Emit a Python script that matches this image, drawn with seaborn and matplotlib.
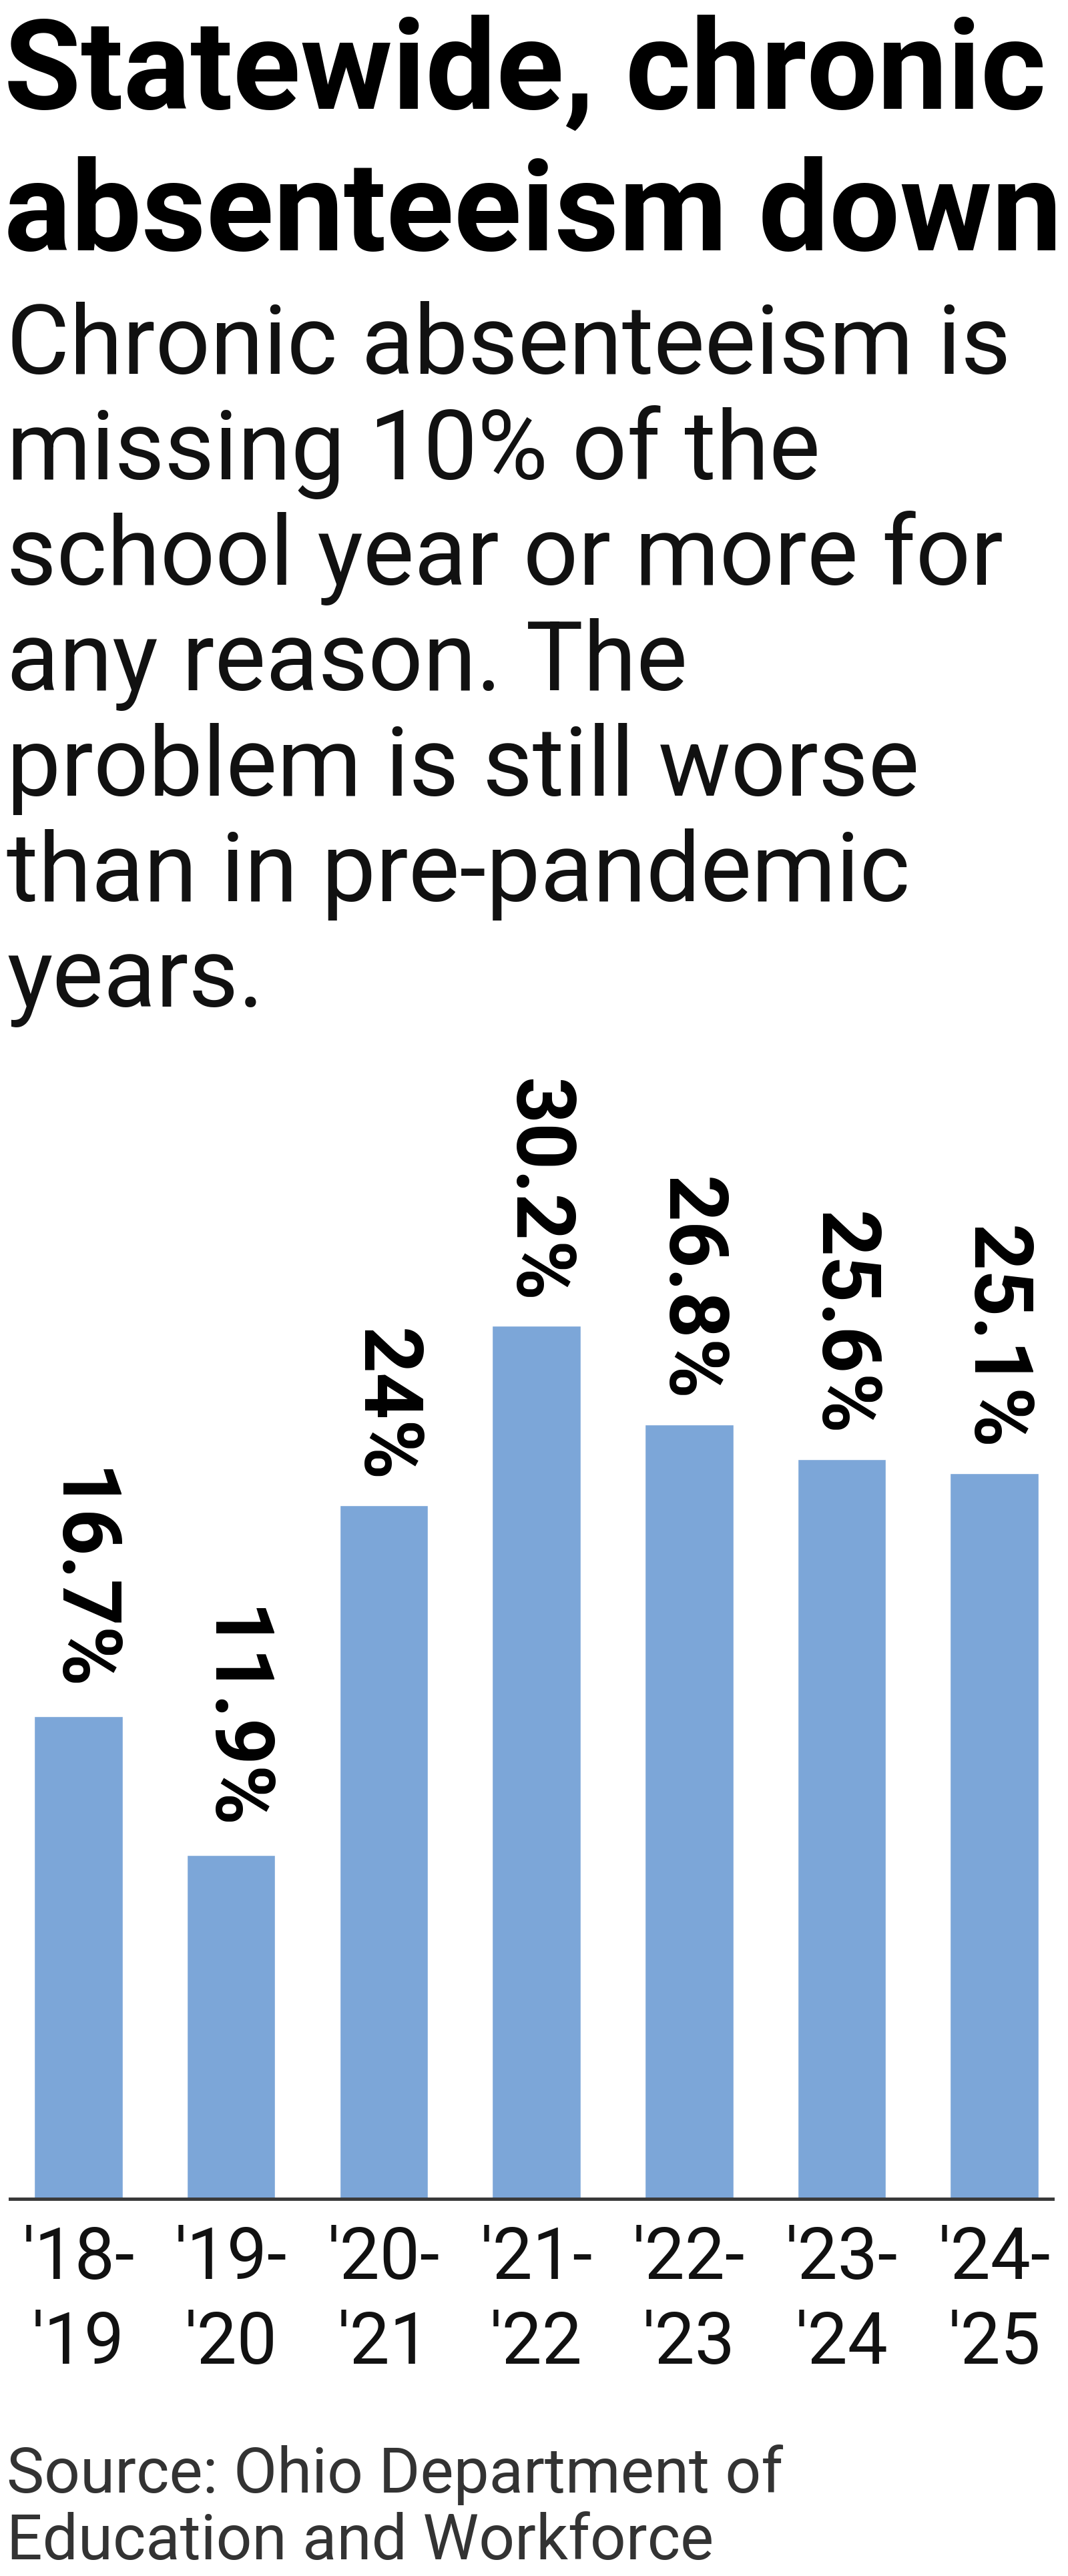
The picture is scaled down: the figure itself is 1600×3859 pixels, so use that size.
import matplotlib
matplotlib.use("Agg")
import matplotlib.pyplot as plt
import seaborn as sns

seasons = ["'18-\n'19", "'19-\n'20", "'20-\n'21", "'21-\n'22", "'22-\n'23", "'23-\n'24", "'24-\n'25"]
rates = [16.7, 11.9, 24.0, 30.2, 26.8, 25.6, 25.1]
rate_labels = ["16.7%", "11.9%", "24%", "30.2%", "26.8%", "25.6%", "25.1%"]

title_lines = ["Statewide, chronic", "absenteeism down"]
subtitle_lines = [
    "Chronic absenteeism is",
    "missing 10% of the",
    "school year or more for",
    "any reason. The",
    "problem is still worse",
    "than in pre-pandemic",
    "years.",
]
source_lines = ["Source: Ohio Department of", "Education and Workforce"]

sns.set_theme(style="white")
plt.rcParams['font.family'] = ['Roboto', 'DejaVu Sans']

W, H = 1600, 3859
fig = plt.figure(figsize=(W / 100, H / 100), dpi=100)


def fy(px):
    return 1 - px / H


# title and subtitle, one baseline per line
for i, line in enumerate(title_lines):
    fig.text(6 / W, fy(163 + 212 * i), line, fontsize=135, fontweight='bold',
             color='#000000', va='baseline', ha='left')

for i, line in enumerate(subtitle_lines):
    fig.text(10 / W, fy(560 + 158 * i), line, fontsize=104,
             color='#111111', va='baseline', ha='left')

# chart area
ax_bottom = 3294
ax_top = 1500
ax = fig.add_axes([15 / W, fy(ax_bottom), 1562 / W, (ax_bottom - ax_top) / H])

sns.barplot(x=list(range(len(rates))), y=rates, color='#7ca6d8', width=0.58,
            saturation=1, ax=ax)

ax.set_xlim(-0.448, 6.382)
ax.set_ylim(0, (ax_bottom - ax_top) / 43.3)

ax.bar_label(ax.containers[0], labels=rate_labels, rotation=-90, padding=25,
             fontsize=88, fontweight='bold', color='#000000')

ax.set_xticks(range(len(seasons)))
ax.set_xticklabels(seasons, fontsize=77, color='#111111', linespacing=1.3)
ax.tick_params(axis='x', length=0, pad=28)
ax.set_yticks([])
ax.set_xlabel('')
ax.set_ylabel('')
for side in ['top', 'left', 'right']:
    ax.spines[side].set_visible(False)
ax.spines['bottom'].set_color('#3a3a3a')
ax.spines['bottom'].set_linewidth(3.6)

for i, line in enumerate(source_lines):
    fig.text(10 / W, fy(3734 + 100 * i), line, fontsize=68,
             color='#333333', va='baseline', ha='left')

fig.savefig('out.png', dpi=100, facecolor='white')
